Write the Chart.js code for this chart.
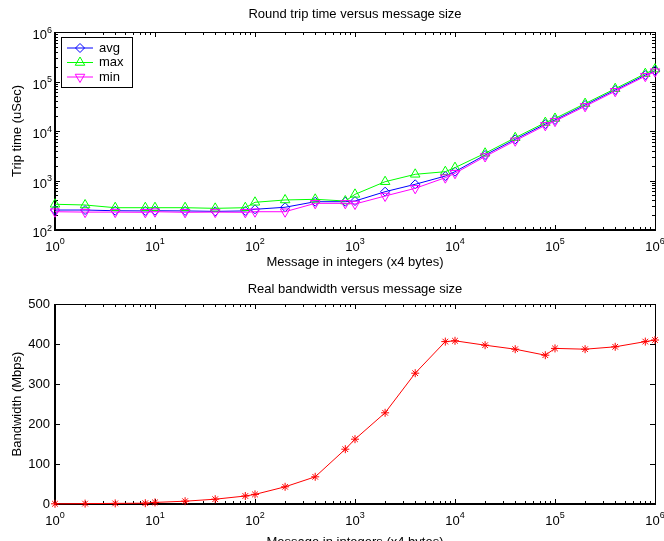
<!DOCTYPE html>
<html>
<head>
<meta charset="utf-8">
<script src="https://cdn.jsdelivr.net/npm/chart.js@4.4.0/dist/chart.umd.min.js"></script>
<style>
  html, body { margin: 0; padding: 0; background: #fff; width: 664px; height: 541px; overflow: hidden; }
  canvas { position: absolute; left: 0; }
  #tripChart { top: 0; }
  #bwChart { top: 270px; }
</style>
</head>
<body>
<canvas id="tripChart" width="664" height="270"></canvas>
<canvas id="bwChart" width="664" height="280"></canvas>
<script>
// ukuran pesan (jumlah integer)
const msgSize = [1, 2, 4, 8, 10, 20, 40, 80, 100, 200, 400, 800, 1000, 2000, 4000, 8000,
  10000, 20000, 40000, 80000, 100000, 200000, 400000, 800000, 1000000];

// round trip time (uSec)
const tripAvg = [253, 253, 245, 243, 245, 243, 238, 243, 262, 288, 373, 373, 385, 594, 838, 1230,
  1506, 3270, 6790, 13800, 16700, 33500, 67300, 135000, 165000];
const tripMax = [331, 320, 282, 282, 282, 282, 274, 282, 363, 404, 417, 385, 525, 946, 1334, 1506,
  1820, 3550, 7300, 14800, 17900, 35800, 71500, 144000, 178000];
const tripMin = [234, 230, 230, 228, 234, 228, 230, 228, 234, 234, 346, 346, 335, 486, 695, 1140,
  1400, 3050, 6350, 13000, 15800, 31500, 63500, 128000, 158000];

// bandwidth (Mbps)
const bandwidth = [0.5, 1, 1.5, 2, 4, 7, 12, 20, 24, 43, 68, 137, 162, 228, 327, 406,
  408, 397, 387, 372, 389, 387, 393, 406, 410];

// tick (label log = basis "10" + pangkat kecil)
const tickBase = '10';
const xDecades = [1, 10, 100, 1000, 10000, 100000, 1000000];
const xDecadeExp = ['0', '1', '2', '3', '4', '5', '6'];
const tripDecades = [100, 1000, 10000, 100000, 1000000];
const tripDecadeExp = ['2', '3', '4', '5', '6'];
const bwTicks = [0, 100, 200, 300, 400, 500];
const bwTickLabels = ['0', '100', '200', '300', '400', '500'];

const FONT = "'Liberation Sans', Arial, Helvetica, sans-serif";
Chart.defaults.font.family = FONT;
Chart.defaults.font.size = 13;
Chart.defaults.color = '#000';
Chart.defaults.animation = false;

// tambahkan tick minor 2..9 di tiap dekade
function withMinor(decades) {
  const out = [];
  decades.forEach((d, i) => {
    out.push(d);
    if (i < decades.length - 1) {
      for (let k = 2; k <= 9; k++) out.push(d * k);
    }
  });
  return out;
}

function labelFrom(values, labels) {
  return (v) => {
    const i = values.indexOf(v);
    return i >= 0 ? labels[i] : '';
  };
}

// kotak sumbu + tick ke dalam (gaya matlab)
const framePlugin = {
  id: 'frame',
  beforeDatasetsDraw(chart, args, opts) {
    const { ctx, chartArea: a, scales: { x, y } } = chart;
    ctx.save();
    ctx.strokeStyle = '#000';
    ctx.lineWidth = 1;
    ctx.beginPath();
    x.ticks.forEach(t => {
      const px = Math.round(x.getPixelForValue(t.value)) + 0.5;
      const len = opts.xMajor.includes(t.value) ? 5 : 3;
      ctx.moveTo(px, a.bottom); ctx.lineTo(px, a.bottom - len);
      ctx.moveTo(px, a.top); ctx.lineTo(px, a.top + len);
    });
    y.ticks.forEach(t => {
      const py = Math.round(y.getPixelForValue(t.value)) + 0.5;
      const len = opts.yMajor.includes(t.value) ? 5 : 3;
      ctx.moveTo(a.left, py); ctx.lineTo(a.left + len, py);
      ctx.moveTo(a.right, py); ctx.lineTo(a.right - len, py);
    });
    ctx.stroke();

    // garis atas & kanan tipis
    ctx.beginPath();
    ctx.moveTo(a.left, a.top + 0.5); ctx.lineTo(a.right + 0.5, a.top + 0.5);
    ctx.lineTo(a.right + 0.5, a.bottom);
    ctx.stroke();
    // garis kiri & bawah tebal
    ctx.lineWidth = 2;
    ctx.beginPath();
    ctx.moveTo(a.left, a.top); ctx.lineTo(a.left, a.bottom);
    ctx.lineTo(a.right + 1, a.bottom);
    ctx.stroke();
    ctx.restore();
  }
};

// label 10^n dengan pangkat kecil terangkat
const logLabelPlugin = {
  id: 'logLabels',
  afterDraw(chart, args, opts) {
    const { ctx, chartArea: a, scales } = chart;
    const big = '13px ' + FONT, small = '9px ' + FONT;
    ctx.save();
    ctx.fillStyle = '#000';
    ctx.textAlign = 'left';
    ctx.textBaseline = 'alphabetic';
    const sizes = (exp) => {
      ctx.font = big; const wb = ctx.measureText(tickBase).width;
      ctx.font = small; const we = ctx.measureText(exp).width;
      return [wb, we];
    };
    if (opts.x) {
      opts.x.values.forEach((v, i) => {
        const exp = opts.x.exps[i];
        const [wb, we] = sizes(exp);
        const px = scales.x.getPixelForValue(v);
        const left = px - (wb + we) / 2;
        ctx.font = big; ctx.fillText(tickBase, left, a.bottom + 21);
        ctx.font = small; ctx.fillText(exp, left + wb, a.bottom + 14);
      });
    }
    if (opts.y) {
      opts.y.values.forEach((v, i) => {
        const exp = opts.y.exps[i];
        const [wb, we] = sizes(exp);
        const py = scales.y.getPixelForValue(v);
        const left = a.left - 3 - wb - we;
        ctx.font = big; ctx.fillText(tickBase, left, py + 7);
        ctx.font = small; ctx.fillText(exp, left + wb, py + 0.5);
      });
    }
    ctx.restore();
  }
};

// legenda di dalam area plot dengan kotak
const legendBoxPlugin = {
  id: 'legendBox',
  afterDraw(chart) {
    const { ctx, chartArea: a } = chart;
    const bx = a.left + 6, by = a.top + 5, bw = 71, bh = 50;
    ctx.save();
    ctx.fillStyle = '#fff';
    ctx.fillRect(bx, by, bw, bh);
    ctx.strokeStyle = '#000';
    ctx.lineWidth = 1;
    ctx.strokeRect(bx + 0.5, by + 0.5, bw, bh);
    ctx.font = '13px ' + FONT;
    ctx.textBaseline = 'middle';
    chart.data.datasets.forEach((ds, i) => {
      const yy = by + 11 + i * 14.5;
      ctx.strokeStyle = ds.borderColor;
      ctx.lineWidth = 1;
      ctx.beginPath();
      ctx.moveTo(bx + 6, yy); ctx.lineTo(bx + 32, yy);
      ctx.stroke();
      ctx.fillStyle = 'rgba(0,0,0,0)';
      Chart.helpers.drawPoint(ctx, {
        pointStyle: ds.pointStyle,
        rotation: ds.pointRotation || 0,
        radius: ds.pointRadius,
        borderWidth: 1
      }, bx + 19, yy);
      ctx.fillStyle = '#000';
      ctx.fillText(ds.label, bx + 38, yy);
    });
    ctx.restore();
  }
};

function xAxis(height, titlePad) {
  return {
    type: 'logarithmic',
    min: 1,
    max: 1000000,
    grid: { display: false, drawTicks: false },
    border: { display: false },
    afterBuildTicks: s => { s.ticks = withMinor(xDecades).map(v => ({ value: v })); },
    afterFit: s => { s.height = height; s.paddingLeft = 0; s.paddingRight = 0; },
    ticks: { display: false, autoSkip: false, maxRotation: 0 },
    title: { display: true, text: 'Message in integers (x4 bytes)', padding: { top: titlePad, bottom: 0 } }
  };
}

function lineSet(label, data, color, style, radius, rot, order) {
  return {
    label: label,
    data: data,
    borderColor: color,
    borderWidth: 1,
    backgroundColor: 'rgba(0,0,0,0)',
    pointStyle: style,
    pointRadius: radius,
    pointRotation: rot,
    pointBorderColor: color,
    pointBackgroundColor: 'rgba(0,0,0,0)',
    pointBorderWidth: 1,
    tension: 0,
    clip: false,
    order: order
  };
}

new Chart(document.getElementById('tripChart'), {
  type: 'line',
  data: {
    labels: msgSize,
    datasets: [
      lineSet('avg', tripAvg, '#0000ff', 'rectRot', 4.5, 0, 3),
      lineSet('max', tripMax, '#00ff00', 'triangle', 5.5, 0, 2),
      lineSet('min', tripMin, '#ff00ff', 'triangle', 5.5, 180, 1)
    ]
  },
  options: {
    responsive: false,
    layout: { padding: { left: 0, right: 9, top: 0, bottom: 0 } },
    scales: {
      x: xAxis(40, 0),
      y: {
        type: 'logarithmic',
        min: 100,
        max: 1000000,
        grid: { display: false, drawTicks: false },
        border: { display: false },
        afterBuildTicks: s => { s.ticks = withMinor(tripDecades).map(v => ({ value: v })); },
        afterFit: s => { s.width = 55; s.paddingTop = 0; s.paddingBottom = 0; },
        ticks: { display: false, autoSkip: false },
        title: { display: true, text: 'Trip time (uSec)', padding: { top: 10, bottom: 0 } }
      }
    },
    plugins: {
      legend: { display: false },
      tooltip: { enabled: false },
      title: {
        display: true,
        text: 'Round trip time versus message size',
        fullSize: false,
        font: { size: 13, weight: 'normal' },
        padding: { top: 6.7, bottom: 9.7 }
      },
      frame: { xMajor: xDecades, yMajor: tripDecades },
      logLabels: {
        x: { values: xDecades, exps: xDecadeExp },
        y: { values: tripDecades, exps: tripDecadeExp }
      }
    }
  },
  plugins: [framePlugin, logLabelPlugin, legendBoxPlugin]
});

new Chart(document.getElementById('bwChart'), {
  type: 'line',
  data: {
    labels: msgSize,
    datasets: [
      lineSet('bandwidth', bandwidth, '#ff0000', 'star', 4, 0, 1)
    ]
  },
  options: {
    responsive: false,
    layout: { padding: { left: 0, right: 9, top: 0, bottom: 0 } },
    scales: {
      x: xAxis(46, 7),
      y: {
        type: 'linear',
        min: 0,
        max: 500,
        grid: { display: false, drawTicks: false },
        border: { display: false },
        afterBuildTicks: s => { s.ticks = bwTicks.map(v => ({ value: v })); },
        afterFit: s => { s.width = 55; s.paddingTop = 0; s.paddingBottom = 0; },
        ticks: { autoSkip: false, padding: 5, callback: labelFrom(bwTicks, bwTickLabels) },
        title: { display: true, text: 'Bandwidth (Mbps)', padding: { top: 10, bottom: 0 } }
      }
    },
    plugins: {
      legend: { display: false },
      tooltip: { enabled: false },
      title: {
        display: true,
        text: 'Real bandwidth versus message size',
        fullSize: false,
        font: { size: 13, weight: 'normal' },
        padding: { top: 11.2, bottom: 7.2 }
      },
      frame: { xMajor: xDecades, yMajor: bwTicks },
      logLabels: {
        x: { values: xDecades, exps: xDecadeExp }
      }
    }
  },
  plugins: [framePlugin, logLabelPlugin]
});
</script>
</body>
</html>
